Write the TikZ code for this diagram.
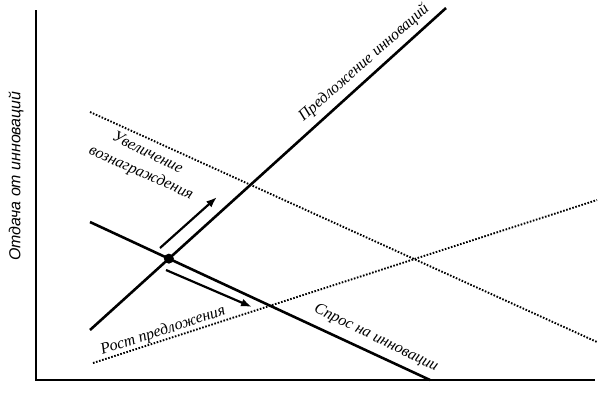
\documentclass[tikz,border=0pt]{standalone}
\usepackage{fontspec}
\setmainfont{Liberation Serif}
\setsansfont{Liberation Sans}
\usetikzlibrary{arrows.meta}
\tikzset{axis/.style={line width=2.6pt},curve/.style={line width=2.6pt},shifted/.style={line width=1.9pt,dash pattern=on 1.6pt off 1.6pt},line/.style={-{Latex[length=11pt,width=8pt]},line width=2.2pt},lbl/.style={font=\itshape\fontsize{16}{17}\selectfont,inner sep=0pt}}

\begin{document}
\begin{tikzpicture}[x=1bp,y=-1bp]
\useasboundingbox (0,0) rectangle (603,394);
% axes
\coordinate (ytop) at (36,10);
\coordinate (o) at (36,380);
\coordinate (xend) at (595,380);
\draw[axis] (ytop) -- (o) -- (xend);
\node[font=\sffamily\itshape\fontsize{16}{17}\selectfont, rotate=90, inner sep=0pt] (ylab) at (16,176) {Отдача от инноваций};
% supply and demand
\coordinate (s1) at (90,330);
\coordinate (s2) at (446,8);
\coordinate (d1) at (90,222);
\coordinate (d2) at (430,380);
\draw[curve] (s1) -- (s2);
\draw[curve] (d1) -- (d2);
% shifted curves
\coordinate (u1) at (90,112);
\coordinate (u2) at (597,342);
\coordinate (l1) at (93,363);
\coordinate (l2) at (597,200);
\draw[shifted] (u1) -- (u2);
\draw[shifted] (l1) -- (l2);
% equilibrium
\fill (intersection of s1--s2 and d1--d2) coordinate (eq) circle (5bp);
\coordinate (a1) at (160,248);
\coordinate (a2) at (217,197);
\coordinate (b1) at (166,270);
\coordinate (b2) at (252,307);
\draw[line] (a1) -- (a2);
\draw[line] (b1) -- (b2);
% labels
\node[lbl, rotate=-26] (inc1) at (148,152) {Увеличение};
\node[lbl, rotate=-24] (inc2) at (141,173) {вознаграждения};
\node[lbl, rotate=18] (grow) at (163,331) {Рост предложения};
\node[lbl, rotate=41.5] (supply) at (364,63) {Предложение инноваций};
\node[lbl, rotate=-26] (demand) at (376,338) {Спрос на инновации};
\end{tikzpicture}
\end{document}
